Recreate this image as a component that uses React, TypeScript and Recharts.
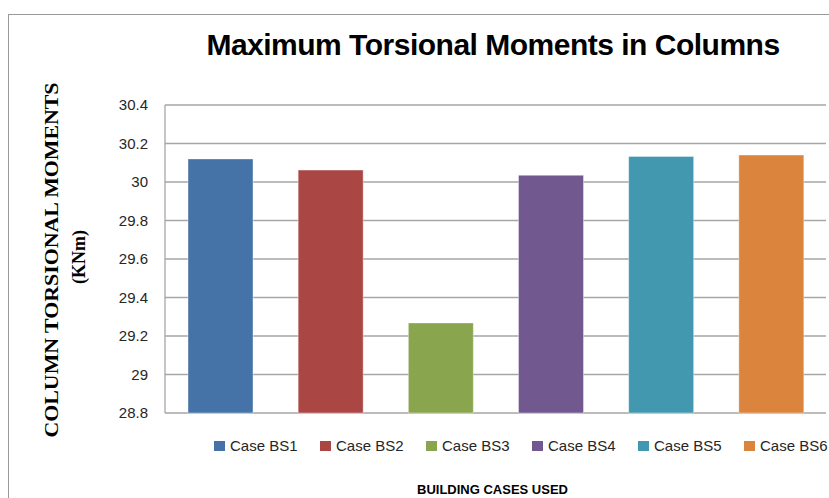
import { BarChart, Bar, XAxis, YAxis, CartesianGrid, Cell, Label } from 'recharts';

const categories = ['Case BS1', 'Case BS2', 'Case BS3', 'Case BS4', 'Case BS5', 'Case BS6'];
const torsion = [30.12, 30.062, 29.268, 30.035, 30.133, 30.14];
const colors = ['#4572A7', '#AA4643', '#89A54E', '#71588F', '#4198AF', '#DB843D'];
const yTicks = [28.8, 29, 29.2, 29.4, 29.6, 29.8, 30, 30.2, 30.4];

const data = categories.map((name, i) => ({ name, value: torsion[i] }));

const sans = '"Liberation Sans", Arial, sans-serif';
const serif = '"Liberation Serif", "Times New Roman", serif';

function YTitle() {
  return (
    <g fontFamily={serif} fontWeight="bold" fill="#000">
      <text
        transform="translate(52,260) rotate(-90)"
        textAnchor="middle"
        dominantBaseline="central"
        fontSize={18}
        textLength={355}
        lengthAdjust="spacingAndGlyphs"
      >
        COLUMN TORSIONAL MOMENTS
      </text>
      <text
        transform="translate(79,257) rotate(-90)"
        textAnchor="middle"
        dominantBaseline="central"
        fontSize={18}
      >
        (KNm)
      </text>
    </g>
  );
}

export default function App() {
  return (
    <div style={{ position: 'absolute', left: 0, top: 0, width: 829, height: 498, background: '#fff', overflow: 'hidden' }}>
      <div
        style={{
          position: 'absolute',
          left: 8,
          top: 14,
          width: 840,
          height: 500,
          borderLeft: '1.5px solid #999',
          borderTop: '1.5px solid #999',
        }}
      />
      <div
        style={{
          position: 'absolute',
          left: 0,
          top: 28,
          width: 986,
          textAlign: 'center',
          fontFamily: sans,
          fontWeight: 'bold',
          fontSize: 30,
          letterSpacing: -0.5,
          color: '#000',
        }}
      >
        Maximum Torsional Moments in Columns
      </div>
      <div style={{ position: 'absolute', left: 0, top: 0 }}>
        <BarChart width={829} height={498} data={data} margin={{ top: 105, right: 3, bottom: 85, left: 0 }}>
          <CartesianGrid vertical={false} stroke="#a6a6a6" strokeWidth={1.3} />
          <XAxis dataKey="name" tick={false} tickLine={false} height={0} axisLine={{ stroke: '#a6a6a6', strokeWidth: 1.3 }} />
          <YAxis
            width={165}
            domain={[28.8, 30.4]}
            ticks={yTicks}
            interval={0}
            tickLine={false}
            tickSize={0}
            tickMargin={17}
            axisLine={{ stroke: '#a6a6a6', strokeWidth: 1.3 }}
            tick={{ fontSize: 15, fill: '#262626', fontFamily: sans }}
            tickFormatter={(v: number) => String(v)}
          >
            <Label content={() => <YTitle />} />
          </YAxis>
          <Bar dataKey="value" barSize={65} isAnimationActive={false}>
            {data.map((d, i) => (
              <Cell key={d.name} fill={colors[i]} stroke="#ffffff" strokeOpacity={0.4} />
            ))}
          </Bar>
        </BarChart>
      </div>
      <div
        style={{
          position: 'absolute',
          left: 214,
          top: 437,
          display: 'flex',
          fontFamily: sans,
          fontSize: 15,
          color: '#262626',
          whiteSpace: 'nowrap',
        }}
      >
        {categories.map((c, i) => (
          <div key={c} style={{ width: 106, display: 'flex', alignItems: 'center' }}>
            <span style={{ display: 'inline-block', width: 11, height: 10, background: colors[i], marginRight: 5 }} />
            <span>{c}</span>
          </div>
        ))}
      </div>
      <div
        style={{
          position: 'absolute',
          left: 417,
          top: 482,
          fontFamily: sans,
          fontWeight: 'bold',
          fontSize: 13,
          color: '#000',
          whiteSpace: 'nowrap',
        }}
      >
        BUILDING CASES USED
      </div>
    </div>
  );
}
